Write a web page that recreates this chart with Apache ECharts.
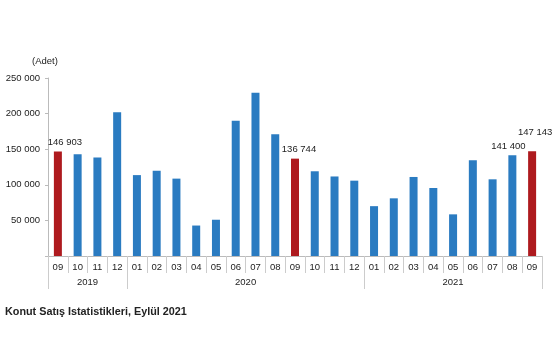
<!DOCTYPE html>
<html>
<head>
<meta charset="utf-8">
<script src="https://cdn.jsdelivr.net/npm/echarts@6/dist/echarts.min.js"></script>
<style>html,body{margin:0;padding:0;background:#fff;}#c{width:555px;height:355px;}</style>
</head>
<body>
<div id="c"></div>
<script>
const months = ['09','10','11','12','01','02','03','04','05','06','07','08','09','10','11','12','01','02','03','04','05','06','07','08','09'];
const sales = [146903,142820,138335,201967,113615,119585,108670,42783,50936,190012,229357,170932,136744,119000,111700,105800,70000,81000,111000,95500,58500,134400,107700,141400,147143];
const highlighted = [0,12,24];
const labelled = [0,12,23,24];
const years = ['2019','2020','2021'];
const yearSpans = [4,12,9];

const blue = '#2A7BC1', red = '#AE1A1E';
const FS = 9.5;
const labelOffsets = {0:[7,0],12:[4,0],23:[-4,0],24:[3,-10]};
const fmt = v => String(v).replace(/\B(?=(\d{3})+(?!\d))/g,' ');

const barData = sales.map((v,i)=>{
  const d = {value:v, itemStyle:{color: highlighted.includes(i)?red:blue}};
  if (labelled.includes(i)) {
    d.label = {show:true, position:'top', distance:4, offset:labelOffsets[i], formatter: p=>fmt(p.value), color:'#222', fontSize:FS, fontFamily:'Liberation Sans'};
  }
  return d;
});

const bounds=[0]; yearSpans.forEach(s=>bounds.push(bounds[bounds.length-1]+s));
const centers = yearSpans.map((s,i)=>bounds[i]+s/2);

const chart = echarts.init(document.getElementById('c'));
chart.setOption({
  animation:false,
  textStyle:{fontFamily:'Liberation Sans'},
  grid:{left:48,right:13,top:78,bottom:99,containLabel:false},
  graphic:[
    {type:'text',left:32,top:56,style:{text:'(Adet)',fontSize:FS,fill:'#222',fontFamily:'Liberation Sans'}},
    {type:'text',left:5,top:307,style:{text:'Konut Satış Istatistikleri, Eylül 2021',fontSize:10.8,fontWeight:'bold',fill:'#222',fontFamily:'Liberation Sans'}}
  ],
  xAxis:[
    {type:'category',data:months,position:'bottom',
     axisLine:{show:true,lineStyle:{color:'#bbb',width:1}},
     axisTick:{show:true,interval:0,length:17,lineStyle:{color:'#ccc'}},
     axisLabel:{interval:0,margin:6,fontSize:FS,color:'#222'}},
    {type:'value',min:0,max:25,position:'bottom',
     axisLine:{show:false},
     splitLine:{show:false},
     axisTick:{show:true,length:33,customValues:bounds,lineStyle:{color:'#ccc'}},
     axisLabel:{show:true,margin:21,fontSize:FS,color:'#222',customValues:centers,
       formatter:(v)=>{const i=centers.indexOf(v);return i>=0?years[i]:'';}}}
  ],
  yAxis:{type:'value',min:0,max:250000,interval:50000,
    axisLine:{show:true,lineStyle:{color:'#bbb'}},
    axisTick:{show:true,length:3,lineStyle:{color:'#bbb'}},
    splitLine:{show:false},
    axisLabel:{fontSize:FS,color:'#222',margin:8,formatter:v=>v===0?'':fmt(v)}},
  series:[{type:'bar',xAxisIndex:0,data:barData,barWidth:8}]
});
</script>
</body>
</html>
